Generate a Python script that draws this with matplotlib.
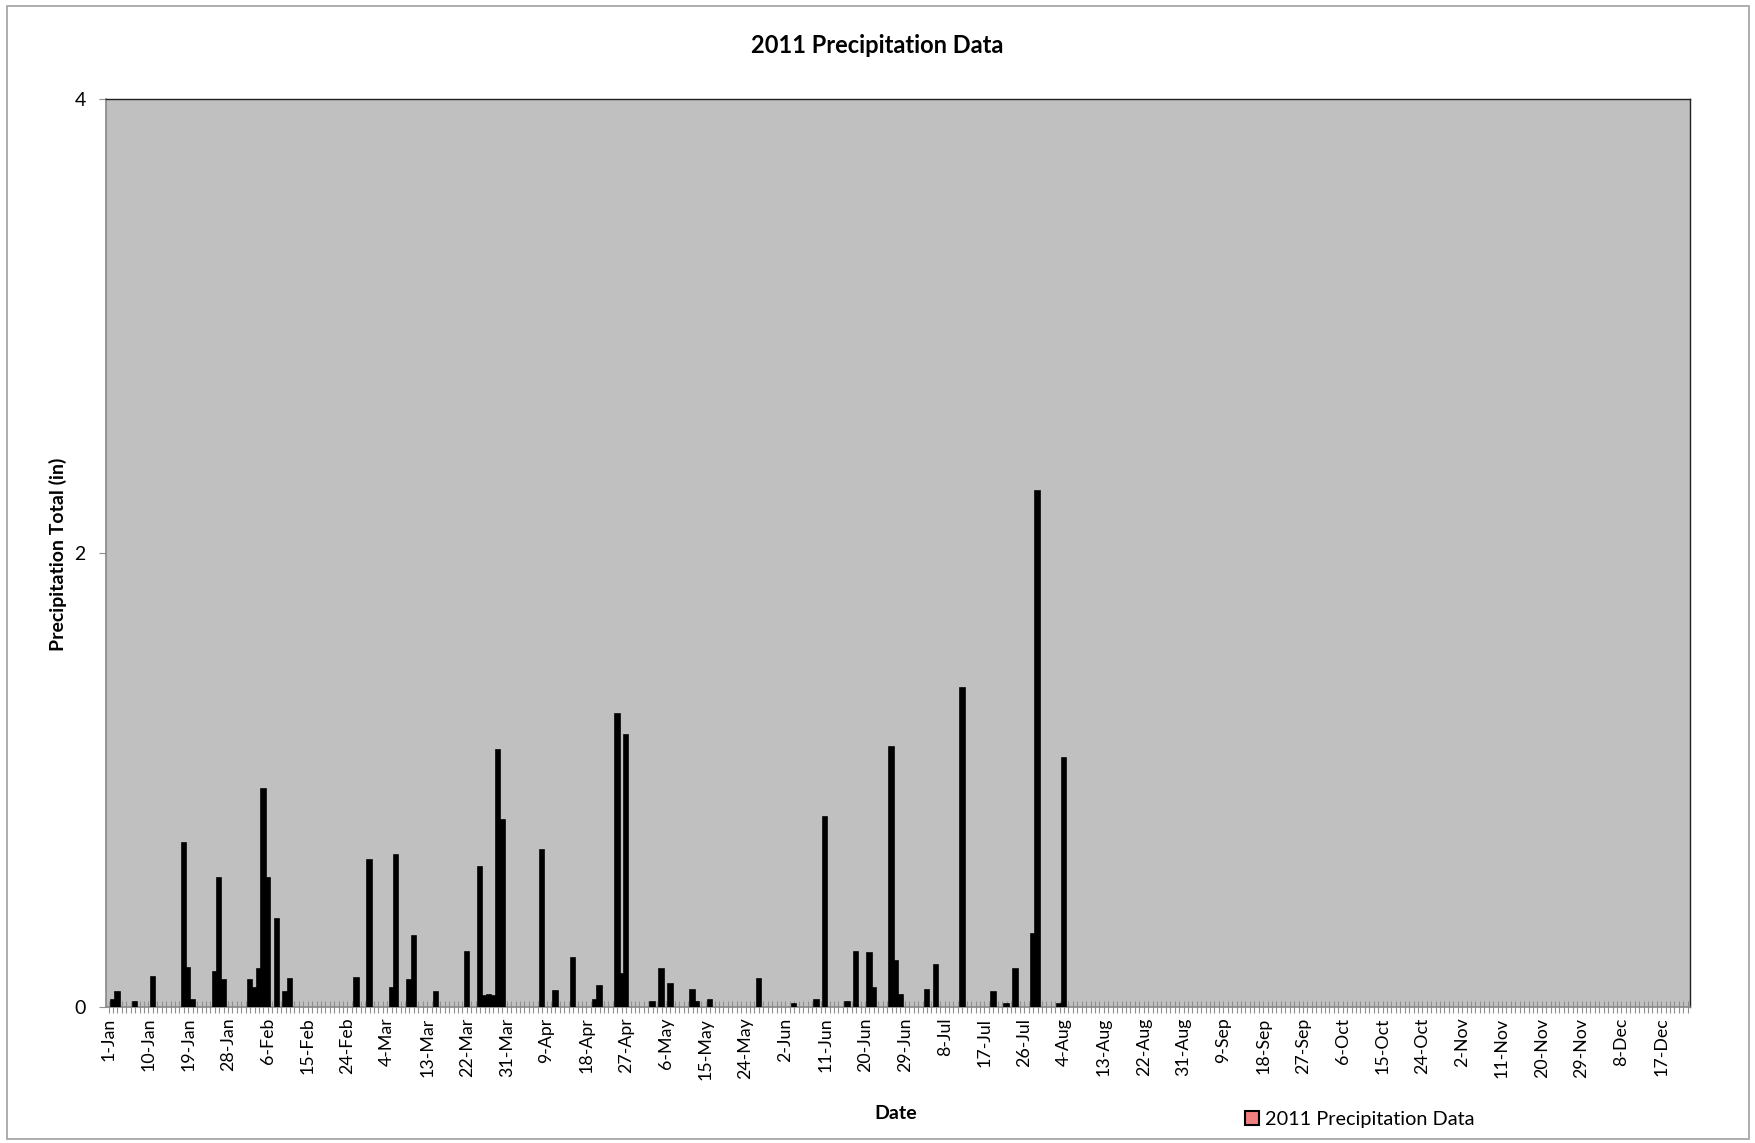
import numpy as np
import matplotlib
matplotlib.use('Agg')
import matplotlib.pyplot as plt
from matplotlib.patches import Patch, Rectangle

plt.rcParams['font.family'] = ['Lato', 'DejaVu Sans']

# daily categories on the axis (1-Jan .. 23-Dec)
n_days = 358

# labelled dates, one every 9 days
tick_labels = ['1-Jan', '10-Jan', '19-Jan', '28-Jan', '6-Feb', '15-Feb', '24-Feb',
               '4-Mar', '13-Mar', '22-Mar', '31-Mar', '9-Apr', '18-Apr', '27-Apr',
               '6-May', '15-May', '24-May', '2-Jun', '11-Jun', '20-Jun', '29-Jun',
               '8-Jul', '17-Jul', '26-Jul', '4-Aug', '13-Aug', '22-Aug', '31-Aug',
               '9-Sep', '18-Sep', '27-Sep', '6-Oct', '15-Oct', '24-Oct', '2-Nov',
               '11-Nov', '20-Nov', '29-Nov', '8-Dec', '17-Dec']

# days with measured rain (position from 1-Jan) and totals in inches
rain_day = [1, 2, 6, 10, 17, 18, 19, 24, 25, 26, 32, 33, 34, 35, 36, 38, 40, 41,
            56, 59, 64, 65, 68, 69, 74, 81, 84, 85, 86, 87, 88, 89, 98, 101, 105,
            110, 111, 115, 116, 117, 123, 125, 127, 132, 133, 136, 147, 155, 160,
            162, 167, 169, 172, 173, 177, 178, 179, 185, 187, 193, 200, 203, 205,
            209, 210, 215, 216]
rain_in = [0.03, 0.065, 0.02, 0.13, 0.72, 0.17, 0.03, 0.15, 0.565, 0.115, 0.115,
           0.08, 0.165, 0.96, 0.565, 0.385, 0.065, 0.12, 0.125, 0.645, 0.08, 0.67,
           0.115, 0.31, 0.065, 0.24, 0.615, 0.045, 0.05, 0.045, 1.13, 0.82, 0.69,
           0.07, 0.215, 0.03, 0.09, 1.29, 0.145, 1.195, 0.02, 0.165, 0.10, 0.075,
           0.02, 0.03, 0.12, 0.01, 0.03, 0.835, 0.02, 0.24, 0.235, 0.08, 1.145,
           0.2, 0.05, 0.075, 0.185, 1.405, 0.065, 0.01, 0.165, 0.32, 2.27, 0.01,
           1.095]

fig = plt.figure(figsize=(17.56, 11.43), dpi=100)
ax = fig.add_axes([0.0606, 0.1194, 0.9018, 0.794])
ax.set_facecolor('#C0C0C0')

ax.bar(rain_day, rain_in, width=1.0, color='black', edgecolor='black',
       linewidth=1.2, zorder=3)

ax.set_xlim(-0.5, n_days - 0.5)
ax.set_ylim(0, 4)
ax.set_yticks([0, 2, 4])
ax.set_xticks(np.arange(0, 9 * len(tick_labels), 9))
ax.set_xticklabels(tick_labels, rotation=90, fontsize=12.8)
ax.set_xticks(np.arange(n_days), minor=True)

ax.tick_params(axis='x', which='both', direction='inout', length=8,
               width=0.8, color='#909090', pad=4)
ax.tick_params(axis='y', direction='out', length=5, width=0.8,
               color='#909090', labelsize=14, pad=10)

for side in ['left', 'bottom']:
    ax.spines[side].set_color('#888888')
    ax.spines[side].set_linewidth(1.2)
for side in ['top', 'right']:
    ax.spines[side].set_color('#202020')
    ax.spines[side].set_linewidth(1.0)

fig.text(0.4994, 0.9606, '2011 Precipitation Data', ha='center', va='center',
         fontsize=17, fontweight='bold')
fig.text(0.033, 0.5153, 'Precipitation Total (in)', ha='center', va='center',
         rotation=90, fontsize=14, fontweight='bold')
fig.text(0.510, 0.0254, 'Date', ha='center', va='center', fontsize=14,
         fontweight='bold')

handle = Patch(facecolor='#F08080', edgecolor='black', linewidth=1.5)
fig.legend([handle], ['2011 Precipitation Data'], loc='center left',
           bbox_to_anchor=(0.699, 0.0205), frameon=False, fontsize=14.3,
           handlelength=0.7, handleheight=0.7, handletextpad=0.3)

fig.patches.append(Rectangle((0.004, 0.0035), 0.992, 0.9915,
                             transform=fig.transFigure, fill=False,
                             edgecolor='#A0A0A0', linewidth=1.2))

fig.savefig('out.png', dpi=100)
